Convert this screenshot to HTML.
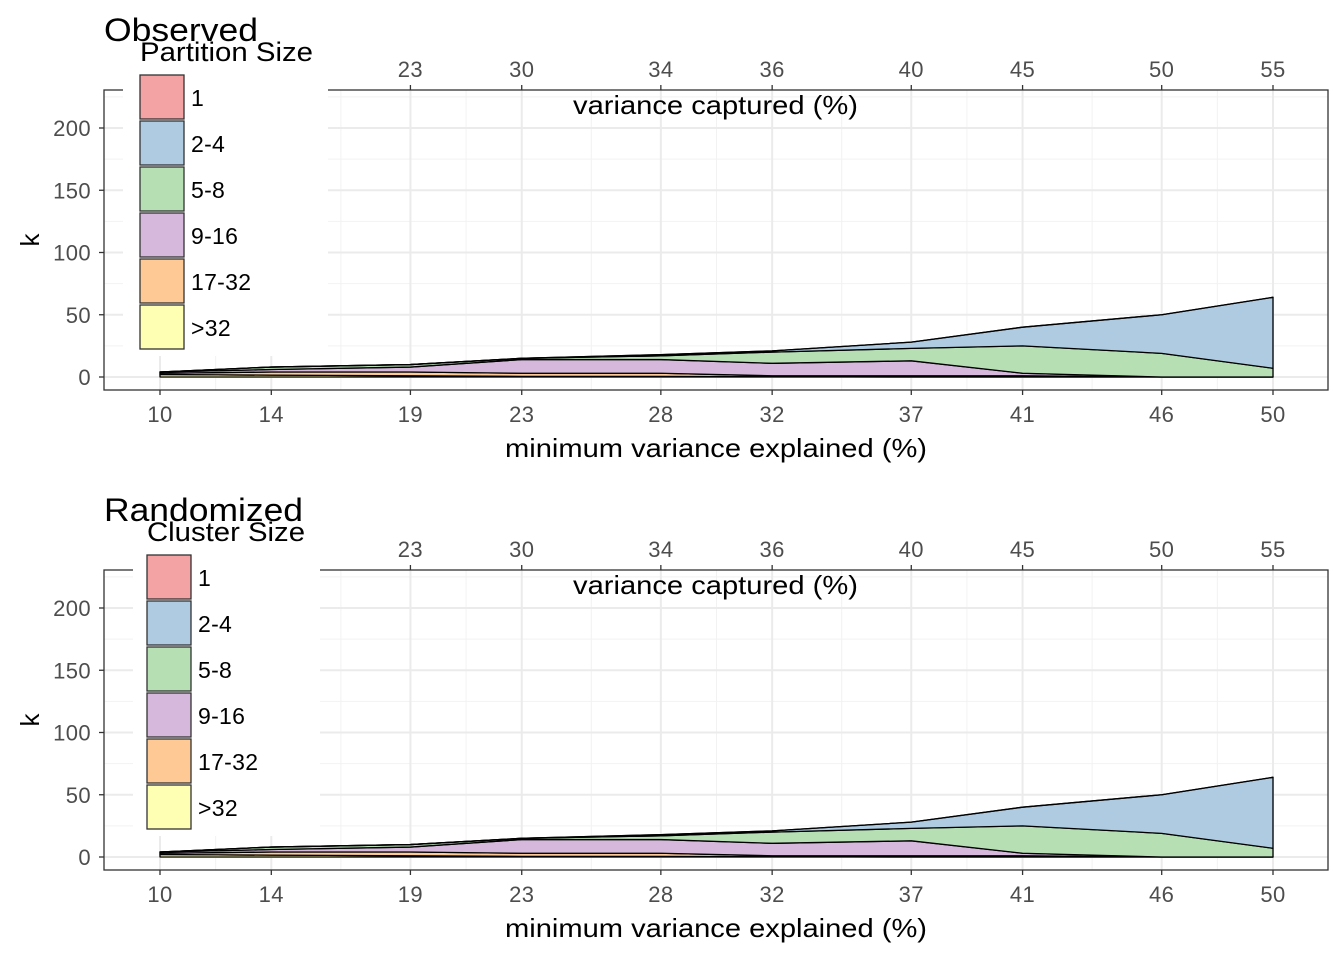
<!DOCTYPE html>
<html><head><meta charset="utf-8">
<style>
html,body{margin:0;padding:0;background:#fff;}
svg text{font-family:"Liberation Sans",sans-serif;}
</style></head>
<body>
<svg id="root" width="1344" height="960" xmlns="http://www.w3.org/2000/svg"></svg>
<script>
const xValues = [10,14,19,23,28,32,37,41,46,50];
const bottomTickLabels = ["10","14","19","23","28","32","37","41","46","50"];
const topTickLabels = ["","","23","30","34","36","40","45","50","55"];
const yTicks = [0,50,100,150,200];
const sizeClasses = ["1","2-4","5-8","9-16","17-32",">32"];
const colors = ["#f4a3a5","#aecbe2","#b6e0b4","#d5b8dc","#fec995","#ffffb3"];
const obsSize1   = [0,0,0,0,0,0,0,0,0,0];
const obsSize2_4 = [0,0,0,0,1,1,5,15,31,57];
const obsSize5_8 = [0,2,2,1,3,9,10,22,19,7];
const obsSize9_16= [1,2,4,11,11,10,12,2,0,0];
const obsSize17_32=[1,2.5,3,2.5,2.5,0.7,1,1,0,0];
const obsSizeGt32= [2,1.5,1,0.5,0.5,0.3,0,0,0,0];
const rndSize1   = [0,0,0,0,0,0,0,0,0,0];
const rndSize2_4 = [0,0,0,0,1,1,5,15,31,57];
const rndSize5_8 = [0,2,2,1,3,9,10,22,19,7];
const rndSize9_16= [1,2,4,11,11,10,12,2,0,0];
const rndSize17_32=[1,2.5,3,2.5,2.5,0.7,1,1,0,0];
const rndSizeGt32= [2,1.5,1,0.5,0.5,0.3,0,0,0,0];

const NS="http://www.w3.org/2000/svg";
const root=document.getElementById('root');
function mk(tag,attrs,parent,text){const e=document.createElementNS(NS,tag);for(const k in attrs)e.setAttribute(k,attrs[k]);if(text!==undefined)e.textContent=text;(parent||root).appendChild(e);return e;}

function panel(off,title,legendTitle,series,legX,legBgX,legBgW,titleW,legTitleW){
  const L=104,R=1328,T=90+off,B=390+off;
  const x=v=>160+(v-10)*(1273-160)/40;
  const y=v=>377+off-v*1.245;
  const g=mk('g',{});
  
  
  for(let i=0;i<yTicks.length;i++){const v=yTicks[i]+25;if(y(v)>T)mk('line',{x1:L,x2:R,y1:y(v),y2:y(v),stroke:'#f2f2f2','stroke-width':1},g);}
  for(let i=0;i<xValues.length-1;i++){const v=(xValues[i]+xValues[i+1])/2;mk('line',{x1:x(v),x2:x(v),y1:T,y2:B,stroke:'#f2f2f2','stroke-width':1},g);}
  yTicks.forEach(v=>mk('line',{x1:L,x2:R,y1:y(v),y2:y(v),stroke:'#ebebeb','stroke-width':2},g));
  xValues.forEach(v=>mk('line',{x1:x(v),x2:x(v),y1:T,y2:B,stroke:'#ebebeb','stroke-width':2},g));
  let base=xValues.map(()=>0);
  for(let s=series.length-1;s>=0;s--){
    const top=base.map((b,i)=>b+series[s][i]);
    let d='M'+xValues.map((v,i)=>x(v)+','+y(top[i])).join(' L');
    for(let i=xValues.length-1;i>=0;i--)d+=' L'+x(xValues[i])+','+y(base[i]);
    d+='Z';
    const p=mk('path',{d:d,fill:colors[s],stroke:'#000','stroke-width':1.3,'stroke-linejoin':'round'},g);
    
    
    base=top;
  }
  mk('rect',{x:L,y:T,width:R-L,height:B-T,fill:'none',stroke:'#333','stroke-width':1.3},g);
  yTicks.forEach(v=>{mk('line',{x1:L-5,x2:L,y1:y(v),y2:y(v),stroke:'#333','stroke-width':1.3},g);
    mk('text',{x:L-13,y:y(v)+8,'text-anchor':'end','font-size':22,'letter-spacing':0.4,fill:'#4d4d4d'},g,String(v));});
  xValues.forEach((v,i)=>{mk('line',{x1:x(v),x2:x(v),y1:B,y2:B+5,stroke:'#333','stroke-width':1.3},g);
    mk('text',{x:x(v),y:B+32,'text-anchor':'middle','font-size':22,'letter-spacing':0.4,fill:'#4d4d4d'},g,bottomTickLabels[i]);
    if(topTickLabels[i]){mk('line',{x1:x(v),x2:x(v),y1:T-5,y2:T,stroke:'#333','stroke-width':1.3},g);
    mk('text',{x:x(v),y:T-13,'text-anchor':'middle','font-size':22,'letter-spacing':0.4,fill:'#4d4d4d'},g,topTickLabels[i]);}});
  const xt=mk('text',{x:505,y:B+67,'font-size':26,textLength:422,lengthAdjust:'spacingAndGlyphs',fill:'#000'},g,'minimum variance explained (%)');
  
  const tt=mk('text',{x:573,y:T+24,'font-size':26,textLength:285,lengthAdjust:'spacingAndGlyphs',fill:'#000'},g,'variance captured (%)');
  
  const yt=mk('text',{x:39,y:240+off,'text-anchor':'middle','font-size':26,fill:'#000',transform:'rotate(-90 39 '+(240+off)+')'},g,'k');
  
  const ti=mk('text',{x:104,y:41+off,'font-size':32,textLength:titleW,lengthAdjust:'spacingAndGlyphs',fill:'#000'},g,title);
  
  const lg=mk('g',{},g);
  
  mk('rect',{x:legBgX,y:60+off,width:legBgW,height:296,fill:'#fff'},lg);
  mk('text',{x:legX,y:61+off,'font-size':27,textLength:legTitleW,lengthAdjust:'spacingAndGlyphs',fill:'#000'},lg,legendTitle);
  sizeClasses.forEach((c,i)=>{
    const ky=75+off+i*46;
    const e=mk('g',{},lg);
    
    mk('rect',{x:legX,y:ky,width:44,height:44,fill:colors[i],stroke:'#333','stroke-width':1.3},e);
    mk('text',{x:legX+51,y:ky+31,'font-size':23,'letter-spacing':0.3,fill:'#000'},e,c);
  });
}
panel(0,'Observed','Partition Size',[obsSize1,obsSize2_4,obsSize5_8,obsSize9_16,obsSize17_32,obsSizeGt32],140,123,205,154,173);
panel(480,'Randomized','Cluster Size',[rndSize1,rndSize2_4,rndSize5_8,rndSize9_16,rndSize17_32,rndSizeGt32],147,133,187,199,158);
</script>
</body></html>
